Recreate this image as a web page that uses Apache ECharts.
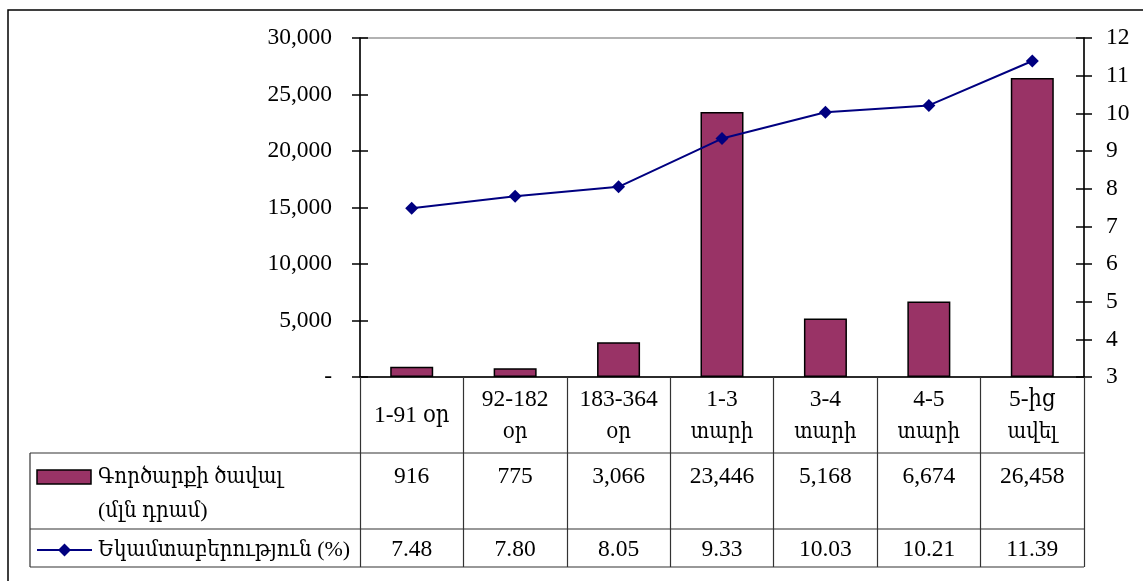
<!DOCTYPE html>
<html>
<head>
<meta charset="utf-8">
<script src="https://cdn.jsdelivr.net/npm/echarts@6/dist/echarts.min.js"></script>
<style>
html,body{margin:0;padding:0;background:#fff;}
#c{width:1143px;height:581px;}
</style>
</head>
<body>
<div id="c"></div>
<script>
const categories = ['1-91 օր', '92-182\nօր', '183-364\nօր', '1-3\nտարի', '3-4\nտարի', '4-5\nտարի', '5-ից\nավել'];
const volumes = [916, 775, 3066, 23446, 5168, 6674, 26458];
const yields = [7.48, 7.80, 8.05, 9.33, 10.03, 10.21, 11.39];
const seriesNames = ['Գործարքի ծավալ\n(մլն դրամ)', 'Եկամտաբերություն (%)'];
const leftTicks = {min: 0, max: 30000, interval: 5000};
const rightTicks = {min: 3, max: 12, interval: 1};

const FONT = "'Liberation Serif', 'DejaVu Serif Condensed', 'DejaVu Serif', serif";
const FS = 23.5;
const FS_ARM = 22;
const BAR_COLOR = '#993366';
const LINE_COLOR = '#000080';
const fmt = v => v.toLocaleString('en-US');
const isArmenianOnly = s => /^[\u0530-\u058F\s]+$/.test(s);

const chart = echarts.init(document.getElementById('c'), null, {renderer: 'canvas'});

const baseY = {
  type: 'value', splitLine: {show: false},
  axisLine: {show: true, lineStyle: {color: '#000', width: 1.5}},
  axisTick: {show: true, length: 8, lineStyle: {color: '#000', width: 1.5}},
  axisLabel: {fontFamily: FONT, fontSize: FS, color: '#000'}
};

chart.setOption({
  animation: false,
  textStyle: {fontFamily: FONT},
  grid: {left: 360, right: 59, top: 38, bottom: 204, show: true, borderColor: '#999', borderWidth: 1.5},
  xAxis: {
    type: 'category', data: categories, boundaryGap: true,
    axisLine: {lineStyle: {color: '#000', width: 1.5}},
    axisTick: {show: true, interval: 0, length: 190, lineStyle: {color: '#333', width: 1.2}},
    axisLabel: {interval: 0, margin: 39, verticalAlign: 'middle', lineHeight: 33,
      fontFamily: FONT, fontSize: FS, color: '#000',
      formatter: v => v.split('\n').map(l => isArmenianOnly(l) ? '{a|' + l + '}' : '{n|' + l + '}').join('\n'),
      rich: {
        n: {fontFamily: FONT, fontSize: FS, lineHeight: 33, color: '#000'},
        a: {fontFamily: FONT, fontSize: FS_ARM, lineHeight: 33, color: '#000'}
      }}
  },
  yAxis: [
    Object.assign({}, baseY, leftTicks, {position: 'left',
      axisLabel: Object.assign({}, baseY.axisLabel, {margin: 28, formatter: v => v === 0 ? '-' : fmt(v)})}),
    Object.assign({}, baseY, rightTicks, {position: 'right',
      axisLabel: Object.assign({}, baseY.axisLabel, {margin: 22})}),
    Object.assign({}, baseY, leftTicks, {position: 'left', axisLine: {show: false},
      axisTick: {show: true, inside: true, length: 8, lineStyle: {color: '#000', width: 1.5}}, axisLabel: {show: false}}),
    Object.assign({}, baseY, rightTicks, {position: 'right', axisLine: {show: false},
      axisTick: {show: true, inside: true, length: 8, lineStyle: {color: '#000', width: 1.5}}, axisLabel: {show: false}})
  ],
  series: [
    {name: seriesNames[0], type: 'bar', yAxisIndex: 0, data: volumes, barWidth: 43,
      itemStyle: {color: BAR_COLOR, borderColor: '#000', borderWidth: 1.5}},
    {name: seriesNames[1], type: 'line', yAxisIndex: 1, data: yields,
      symbol: 'diamond', symbolSize: 13, z: 5,
      lineStyle: {color: LINE_COLOR, width: 2}, itemStyle: {color: LINE_COLOR}}
  ]
});

// data table below the axis
const tLeft = 30, tRight = 1084, rowA = 453, rowB = 529, rowC = 567;
const y2 = 477, y3 = 550;
const font = FS + 'px ' + FONT;
const fontArm = FS_ARM + 'px ' + FONT;
const g = [];
g.push({type: 'rect', shape: {x: 8, y: 10, width: 1300, height: 800}, style: {fill: 'none', stroke: '#000', lineWidth: 1.5}, silent: true});
[rowA, rowB, rowC].forEach(y => g.push({type: 'line', shape: {x1: tLeft, y1: y, x2: tRight, y2: y}, style: {stroke: '#333', lineWidth: 1.2}}));
g.push({type: 'line', shape: {x1: tLeft, y1: rowA, x2: tLeft, y2: rowC}, style: {stroke: '#333', lineWidth: 1.2}});
categories.forEach((c, i) => {
  const x = chart.convertToPixel({xAxisIndex: 0}, i);
  g.push({type: 'text', x: x, y: y2, style: {text: fmt(volumes[i]), font: font, fill: '#000', align: 'center', verticalAlign: 'middle'}});
  g.push({type: 'text', x: x, y: y3, style: {text: yields[i].toFixed(2), font: font, fill: '#000', align: 'center', verticalAlign: 'middle'}});
});
// legend keys
g.push({type: 'rect', shape: {x: 37, y: 470, width: 54, height: 14}, style: {fill: BAR_COLOR, stroke: '#000', lineWidth: 1.5}});
g.push({type: 'text', x: 98, y: y2 - 17, style: {text: seriesNames[0], font: fontArm, fill: '#000', align: 'left', verticalAlign: 'top', lineHeight: 34}});
g.push({type: 'line', shape: {x1: 37, y1: y3, x2: 92, y2: y3}, style: {stroke: LINE_COLOR, lineWidth: 2}});
g.push({type: 'polygon', shape: {points: [[64.5, y3 - 6.5], [71, y3], [64.5, y3 + 6.5], [58, y3]]}, style: {fill: LINE_COLOR}});
g.push({type: 'text', x: 98, y: y3, style: {text: seriesNames[1], font: fontArm, fill: '#000', align: 'left', verticalAlign: 'middle'}});
chart.setOption({graphic: g});
</script>
</body>
</html>
